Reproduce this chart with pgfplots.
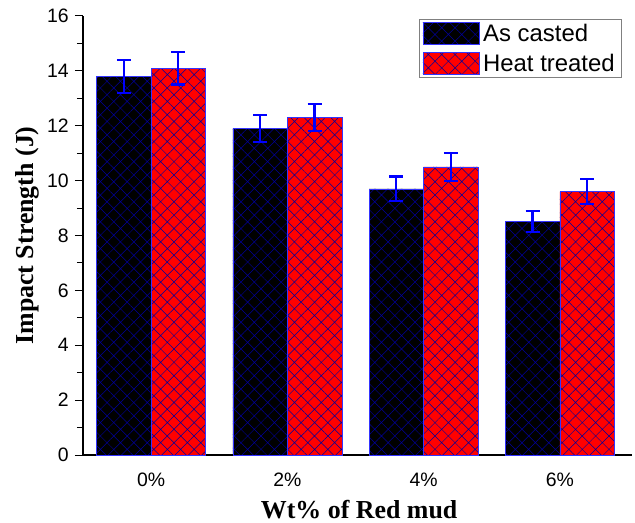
\documentclass[border=0pt]{standalone}
\usepackage{pgfplots}
\pgfplotsset{compat=1.18}
\usepackage{fontspec}
\setmainfont{Liberation Serif}
\setsansfont{Liberation Sans}
\usetikzlibrary{patterns.meta}
\pgfplotstableread{
x y err
0 13.8 0.6
1 11.9 0.5
2 9.7 0.45
3 8.5 0.38
}\ascast
\pgfplotstableread{
x y err
0 14.1 0.6
1 12.3 0.5
2 10.5 0.5
3 9.6 0.45
}\heat
\begin{document}
\begin{tikzpicture}
\begin{axis}[
  scale only axis,
  width=549bp, height=439bp,
  axis lines*=left,
  axis line style={line width=1.2pt},
  xmin=-0.5, xmax=3.53,
  ymin=0, ymax=16,
  ytick={0,2,...,16},
  minor y tick num=1,
  tick align=outside,
  ytick style={black, line width=1pt},
  major tick length=8bp, minor tick length=6bp,
  xtick=data,
  xticklabels={0\%,2\%,4\%,6\%},
  xtick style={draw=none},
  tick label style={font=\sffamily\fontsize{19.5}{22}\selectfont},
  /pgf/number format/assume math mode=true,
  xticklabel style={anchor=center, yshift=-17bp},
  yticklabel style={anchor=east, inner sep=0pt, xshift=-6bp},
  xlabel={\bfseries Wt\% of Red mud},
  ylabel={\bfseries Impact Strength (J)},
  label style={font=\fontsize{26}{30}\selectfont, inner sep=0pt},
  xlabel style={at={(axis description cs:0.503,-0.125)}, anchor=center},
  ylabel style={at={(axis description cs:-0.102,0.5)}, anchor=center},
  ybar=0pt,
  bar width=0.4,
  legend style={at={(0.982,0.993)}, anchor=north east, draw=black!50, line width=0.8pt,
    font=\sffamily\fontsize{24}{28}\selectfont, row sep=7bp, inner xsep=3bp, inner ysep=3bp,
    nodes={inner xsep=4bp, inner ysep=1bp}},
  legend cell align=left,
  legend image code/.code={\draw[#1] (-2bp,-11bp) rectangle (54bp,11bp);},
  error bars/y dir=both,
  error bars/y explicit,
  error bars/error bar style={blue, line width=2.2pt},
  error bars/error mark options={rotate=90, mark size=7bp, line width=2.2pt, blue},
]
\addplot[bar shift=-0.2, draw=blue!80, line width=0.6pt, fill=black,
  postaction={pattern={Hatch[angle=45,distance=9.5pt,line width=0.5pt]}, pattern color=blue!60!black}]
  table[x=x, y=y, y error=err]{\ascast};
\addlegendentry{As casted}
\addplot[bar shift=0.2, draw=blue!80, line width=0.6pt, fill=red,
  postaction={pattern={Hatch[angle=45,distance=9.5pt,line width=0.5pt]}, pattern color=blue!60!black}]
  table[x=x, y=y, y error=err]{\heat};
\addlegendentry{Heat treated}
\end{axis}
\path ([xshift=-83bp,yshift=-68bp]current axis.south west) rectangle ([xshift=3bp,yshift=16bp]current axis.north east);
\end{tikzpicture}
\end{document}
